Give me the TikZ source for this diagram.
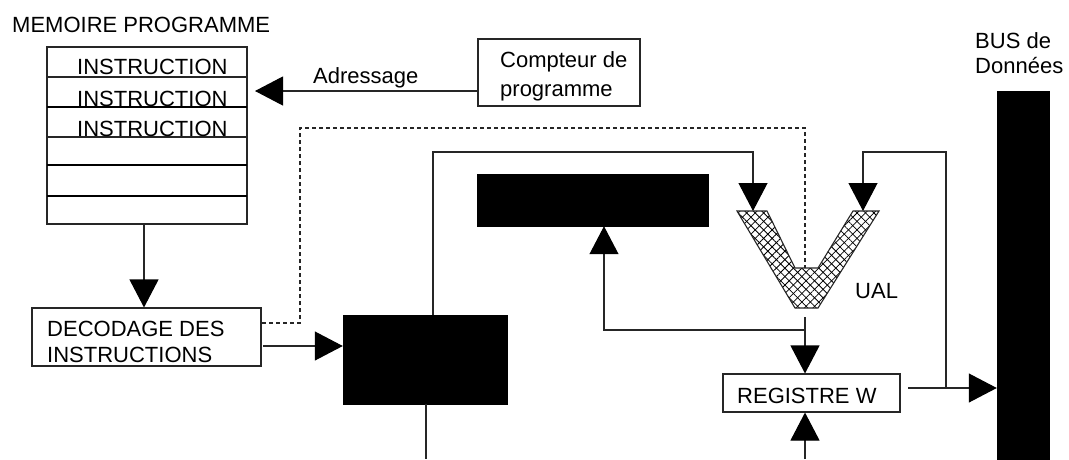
\documentclass[tikz,border=0pt]{standalone}
\usepackage{fontspec}
\setmainfont{Liberation Sans}
\usetikzlibrary{arrows.meta,patterns.meta}
\begin{document}
\begin{tikzpicture}[x=1pt,y=-1pt,
  ln/.style={line width=1.1pt,draw=black!85},
  arr/.style={ln,-{Triangle[length=28pt,width=29pt,color=black]}},
  box/.style={rectangle,ln,inner sep=0pt,fill=white},
  blk/.style={rectangle,fill=black,draw=black,inner sep=0pt},
  lbl/.style={inner sep=0pt,anchor=base west,font=\fontsize{22}{26}\selectfont},
  dsh/.style={ln,dash pattern=on 4pt off 3pt}]
\useasboundingbox (0,0) rectangle (1069,459);
\fill[white] (0,0) rectangle (1069,459);
% memory
\node[box,minimum width=200pt,minimum height=177pt] (mem) at (147,135.5) {};
\draw[ln] (47,77) -- (247,77);
\draw[line width=2pt] (47,107) -- (247,107);
\draw[ln] (47,137) -- (247,137);
\draw[line width=2pt] (47,165) -- (247,165);
\draw[line width=2pt] (47,196) -- (247,196);
\node[lbl] (memt) at (12,32) {MEMOIRE PROGRAMME};
\node[lbl] (i1) at (77,74) {INSTRUCTION};
\node[lbl] (i2) at (77,106) {INSTRUCTION};
\node[lbl] (i3) at (77,136) {INSTRUCTION};
% compteur
\node[box,minimum width=162pt,minimum height=67pt] (cpt) at (559,72.5) {};
\node[lbl] (c1) at (500,67) {Compteur de};
\node[lbl] (c2) at (500,96) {programme};
\node[lbl] (adr) at (313,83) {Adressage};
% decode
\node[box,minimum width=229pt,minimum height=58pt] (dec) at (146.5,337) {};
\node[lbl] (d1) at (47,336) {DECODAGE DES};
\node[lbl] (d2) at (47,362) {INSTRUCTIONS};
% black boxes
\node[blk,minimum width=164pt,minimum height=89pt] (blk1) at (425,359.5) {};
\node[blk,minimum width=231pt,minimum height=52pt] (blk2) at (592.5,200) {};
\node[blk,minimum width=52pt,minimum height=368pt] (bus) at (1023,275) {};
\node[lbl] (b1) at (975,48) {BUS de};
\node[lbl] (b2) at (975,73) {Données};
% register
\node[box,minimum width=177pt,minimum height=38pt] (reg) at (811.5,393) {};
\node[lbl] (regt) at (737,403) {REGISTRE W};
% UAL
\coordinate (ual) at (806,308);
\def\ualpath{(737,211) -- (795,308) -- (818,308) -- (879,211) -- (853,211) -- (818,268) -- (795,268) -- (767,211) -- cycle}
\fill[white] \ualpath;
\fill[pattern={Lines[angle=45,distance=6pt,line width=0.8pt]}] \ualpath;
\fill[pattern={Lines[angle=-45,distance=6pt,line width=0.8pt]}] \ualpath;
\draw[ln] \ualpath;
\node[lbl] (ualt) at (855,298) {UAL};
% coordinates
\coordinate (vl) at (753,211);
\coordinate (vr) at (863,211);
\coordinate (vin) at (805,268);
\coordinate (j1) at (805,330);
\coordinate (j2) at (946,388);
\coordinate (bot1) at (426,459);
\coordinate (bot2) at (805,459);
% connectors
\draw[arr] (mem.south -| 144,0) -- (dec.north -| 144,0);
\draw[arr] (cpt.west |- 0,91) -- (255,91);
\draw[arr] (263,346) -- (blk1.west |- 0,346);
\draw[dsh] (262,323) -- (300,323) -- (300,128) -- (805,128) -- (vin);
\draw[arr] (blk1.north -| 433,0) -- (433,152) -- (753,152) -- (vl);
\draw[ln] (blk1.south -| bot1) -- (bot1);
\draw[arr] (j1) -- (604,330) -- (blk2.south -| 604,0);
\draw[arr] (805,317) -- (reg.north -| 805,0);
\draw[arr] (bot2) -- (reg.south -| bot2);
\draw[arr] (908,388) -- (bus.west |- 0,388);
\draw[arr] (j2) -- (946,152) -- (863,152) -- (vr);
\end{tikzpicture}
\end{document}
